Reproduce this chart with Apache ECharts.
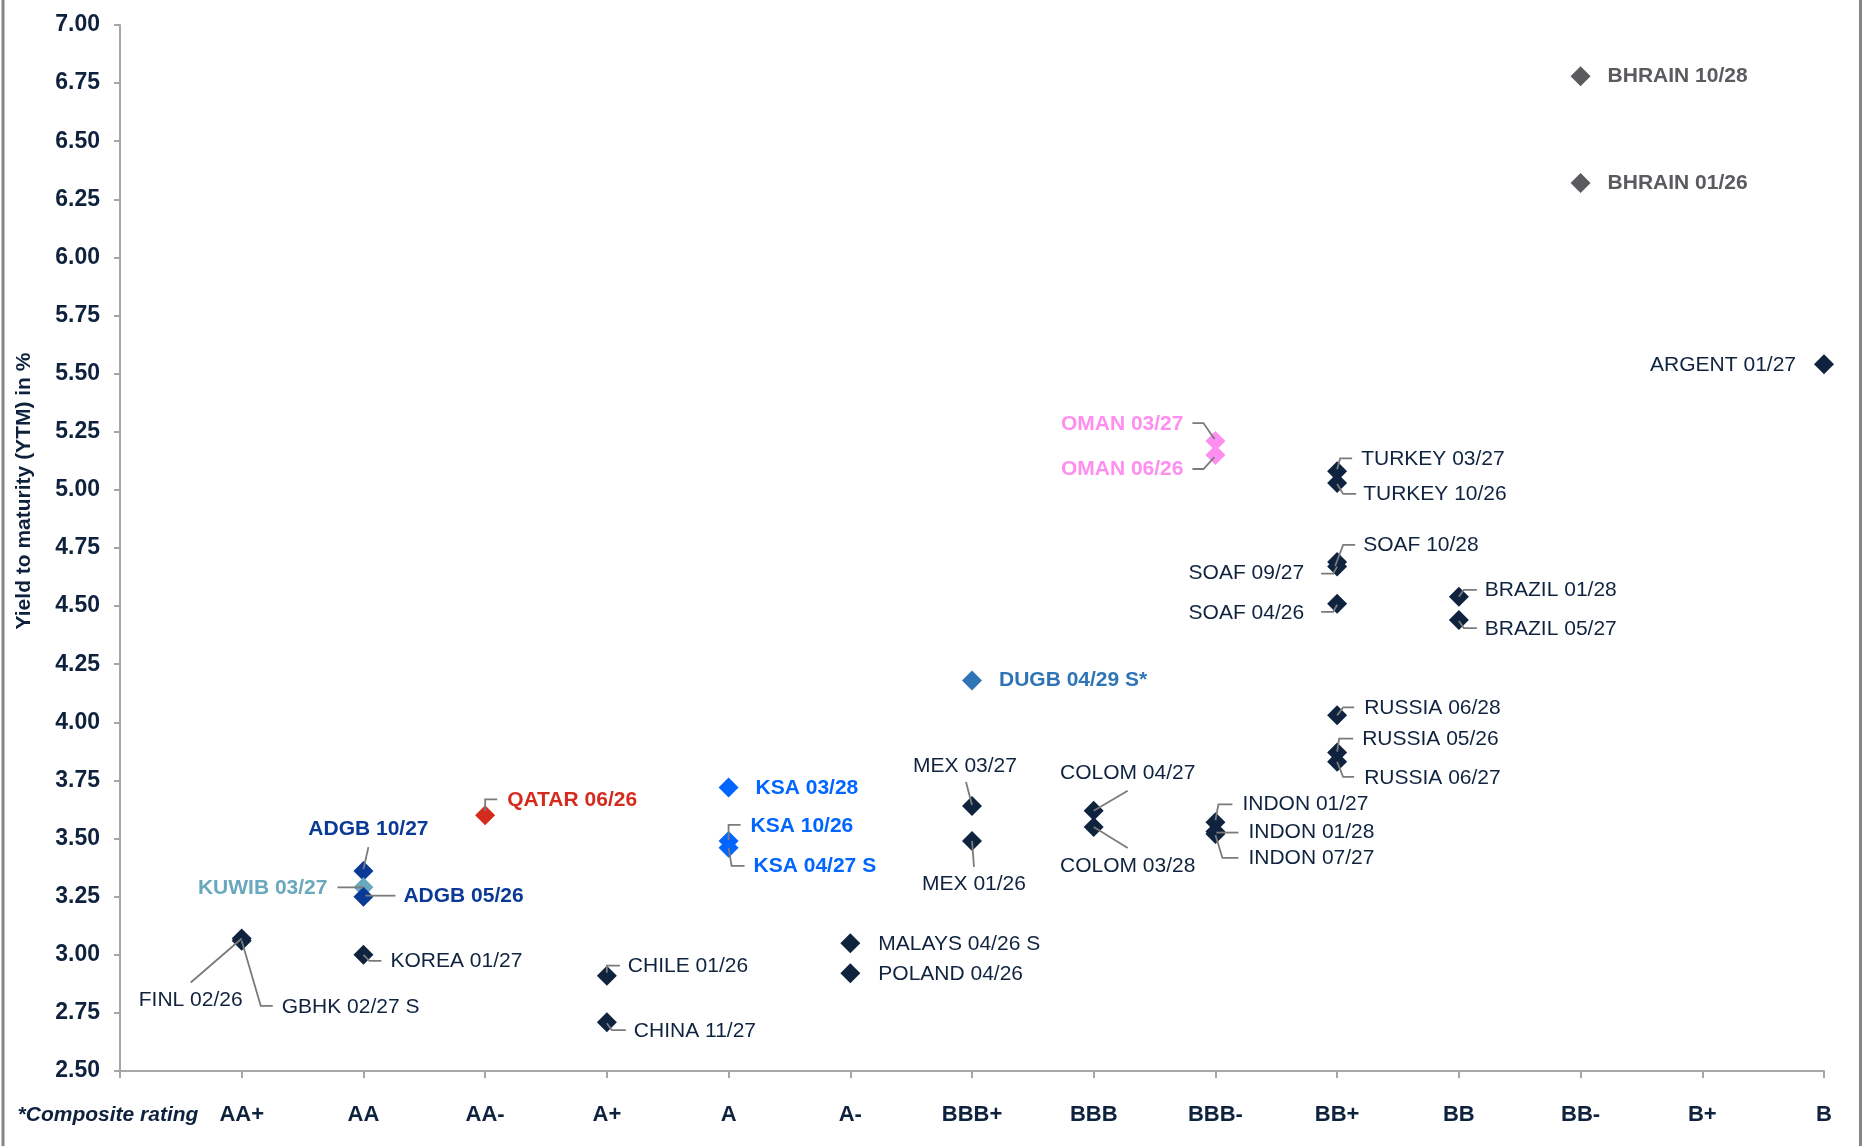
<!DOCTYPE html>
<html>
<head>
<meta charset="utf-8">
<title>Sovereign bond yields by composite rating</title>
<script src="https://cdn.jsdelivr.net/npm/echarts@6.0.0/dist/echarts.min.js"></script>
<style>
  html, body { margin: 0; padding: 0; background: #ffffff; }
  #chart { width: 1865px; height: 1146px; }
</style>
</head>
<body>
<div id="chart"></div>
<script>
// Rating scale along the x axis (position 0 is the y-axis itself)
const ratings = ['', 'AA+', 'AA', 'AA-', 'A+', 'A', 'A-', 'BBB+', 'BBB', 'BBB-', 'BB+', 'BB', 'BB-', 'B+', 'B'];

// Bonds
const bondNames = [
  'FINL 02/26', 'GBHK 02/27 S', 'KOREA 01/27', 'ADGB 10/27', 'KUWIB 03/27', 'ADGB 05/26',
  'QATAR 06/26', 'CHILE 01/26', 'CHINA 11/27', 'KSA 03/28', 'KSA 10/26', 'KSA 04/27 S',
  'MALAYS 04/26 S', 'POLAND 04/26', 'DUGB 04/29 S*', 'MEX 03/27', 'MEX 01/26',
  'COLOM 04/27', 'COLOM 03/28', 'OMAN 03/27', 'OMAN 06/26', 'INDON 01/27', 'INDON 01/28',
  'INDON 07/27', 'TURKEY 03/27', 'TURKEY 10/26', 'SOAF 10/28', 'SOAF 09/27', 'SOAF 04/26',
  'RUSSIA 06/28', 'RUSSIA 05/26', 'RUSSIA 06/27', 'BRAZIL 01/28', 'BRAZIL 05/27',
  'BHRAIN 10/28', 'BHRAIN 01/26', 'ARGENT 01/27'
];
const bondRatings = [
  'AA+', 'AA+', 'AA', 'AA', 'AA', 'AA',
  'AA-', 'A+', 'A+', 'A', 'A', 'A',
  'A-', 'A-', 'BBB+', 'BBB+', 'BBB+',
  'BBB', 'BBB', 'BBB-', 'BBB-', 'BBB-', 'BBB-',
  'BBB-', 'BB+', 'BB+', 'BB+', 'BB+', 'BB+',
  'BB+', 'BB+', 'BB+', 'BB', 'BB',
  'BB-', 'BB-', 'B'
];
const bondYields = [
  3.07, 3.06, 3.00, 3.36, 3.29, 3.25,
  3.60, 2.91, 2.71, 3.72, 3.49, 3.46,
  3.05, 2.92, 4.18, 3.64, 3.49,
  3.62, 3.55, 5.21, 5.15, 3.57, 3.53,
  3.52, 5.08, 5.03, 4.69, 4.67, 4.51,
  4.03, 3.87, 3.83, 4.54, 4.44,
  6.78, 6.32, 5.54
];
const bondIssuerGroup = [
  'core', 'core', 'core', 'adgb', 'kuwib', 'adgb',
  'qatar', 'core', 'core', 'ksa', 'ksa', 'ksa',
  'core', 'core', 'dugb', 'core', 'core',
  'core', 'core', 'oman', 'oman', 'core', 'core',
  'core', 'core', 'core', 'core', 'core', 'core',
  'core', 'core', 'core', 'core', 'core',
  'bhrain', 'bhrain', 'core'
];

// Look of each issuer group
const FONT = '"Liberation Sans", Arial, Helvetica, sans-serif';
const groupStyles = {
  core:   { color: '#0f233f', weight: 'normal' },
  adgb:   { color: '#0b3a96', weight: 'bold' },
  kuwib:  { color: '#6aa8bd', weight: 'bold' },
  qatar:  { color: '#d52b1e', weight: 'bold' },
  ksa:    { color: '#0066ff', weight: 'bold' },
  dugb:   { color: '#2f75b5', weight: 'bold' },
  oman:   { color: '#ff8ef0', weight: 'bold' },
  bhrain: { color: '#595b5e', weight: 'bold' }
};

// Label placement in pixels relative to each marker: text anchor, alignment, leader line
const labelPlacement = [
  { at: [-51, 62], align: 'center', leader: [[-51, 44], [0, 0]] },
  { at: [40, 66], align: 'left', leader: [[0, 0], [19, 65], [31, 65]] },
  { at: [27, 6], align: 'left', leader: [[0, 0], [6, 6], [18, 6]] },
  { at: [5, -42], align: 'center', leader: [[5, -24], [0, -2]] },
  { at: [-36, 1], align: 'right', leader: [[-26, 0], [0, 0]] },
  { at: [40, 0], align: 'left', leader: [[2, -1], [32, -1]] },
  { at: [22, -15], align: 'left', leader: [[0, -4], [0, -16], [12, -16]] },
  { at: [21, -9], align: 'left', leader: [[0, -3], [0, -10], [13, -10]] },
  { at: [27, 9], align: 'left', leader: [[0, 1], [5, 8], [19, 8]] },
  { at: [27, 1], align: 'left', leader: null },
  { at: [22, -15], align: 'left', leader: [[12, -16], [0, -16], [0, -1]] },
  { at: [25, 18], align: 'left', leader: [[0, 0], [3, 18], [16, 18]] },
  { at: [28, 1], align: 'left', leader: null },
  { at: [28, 1], align: 'left', leader: null },
  { at: [27, 0], align: 'left', leader: null },
  { at: [-7, -40], align: 'center', leader: [[-6, -24], [0, -1]] },
  { at: [2, 43], align: 'center', leader: [[0, 0], [2, 26]] },
  { at: [34, -37], align: 'center', leader: [[34, -20], [0, 0]] },
  { at: [34, 39], align: 'center', leader: [[0, 0], [34, 21]] },
  { at: [-32, -17], align: 'right', leader: [[-23, -18], [-12, -18], [-1, -2]] },
  { at: [-32, 14], align: 'right', leader: [[-23, 14], [-12, 14], [-1, 2]] },
  { at: [27, -18], align: 'left', leader: [[0, -2], [3, -18], [17, -18]] },
  { at: [33, 1], align: 'left', leader: [[1, 1], [23, 1]] },
  { at: [33, 24], align: 'left', leader: [[0, 1], [7, 24], [23, 24]] },
  { at: [24, -12], align: 'left', leader: [[0, -2], [3, -13], [15, -13]] },
  { at: [26, 11], align: 'left', leader: [[0, 1], [6, 11], [19, 11]] },
  { at: [26, -17], align: 'left', leader: [[-2, 4], [6, -17], [18, -17]] },
  { at: [-33, 7], align: 'right', leader: [[-16, 7], [-4, 7], [0, 0]] },
  { at: [-33, 9], align: 'right', leader: [[-16, 8], [-4, 8], [0, 1]] },
  { at: [27, -7], align: 'left', leader: [[0, 0], [6, -8], [17, -8]] },
  { at: [25, -13], align: 'left', leader: [[0, -1], [2, -14], [16, -14]] },
  { at: [27, 16], align: 'left', leader: [[0, 0], [6, 15], [17, 15]] },
  { at: [26, -7], align: 'left', leader: [[0, 0], [5, -7], [18, -7]] },
  { at: [26, 9], align: 'left', leader: [[0, 1], [5, 8], [18, 8]] },
  { at: [27, 0], align: 'left', leader: null },
  { at: [27, 0], align: 'left', leader: null },
  { at: [-28, 1], align: 'right', leader: null }
];

const points = bondNames.map((name, i) => ({
  name: name,
  value: [ratings.indexOf(bondRatings[i]), bondYields[i]],
  itemStyle: { color: groupStyles[bondIssuerGroup[i]].color, opacity: 1 }
}));

const AXIS_GREY = '#a6a6a6';
const TEXT_NAVY = '#0e213d';

const chart = echarts.init(document.getElementById('chart'), null, { renderer: 'canvas' });

chart.setOption({
  backgroundColor: '#ffffff',
  animation: false,
  grid: { left: 120, right: 41, top: 25, bottom: 75, containLabel: false, outerBoundsMode: 'none' },
  xAxis: {
    type: 'value',
    min: 0,
    max: 14,
    interval: 1,
    splitLine: { show: false },
    axisLine: { show: true, onZero: false, lineStyle: { color: AXIS_GREY, width: 2 } },
    axisTick: { show: true, length: 7, lineStyle: { color: AXIS_GREY, width: 2 } },
    axisLabel: {
      margin: 33,
      color: TEXT_NAVY,
      fontFamily: FONT,
      fontSize: 22,
      fontWeight: 'bold',
      formatter: v => ratings[v] || ''
    }
  },
  yAxis: {
    type: 'value',
    min: 2.5,
    max: 7,
    interval: 0.25,
    splitLine: { show: false },
    axisLine: { show: true, onZero: false, lineStyle: { color: AXIS_GREY, width: 2 } },
    axisTick: { show: true, length: 6, lineStyle: { color: AXIS_GREY, width: 2 } },
    axisLabel: {
      margin: 20,
      color: TEXT_NAVY,
      fontFamily: FONT,
      fontSize: 23,
      fontWeight: 'bold',
      formatter: v => v.toFixed(2)
    }
  },
  graphic: [
    {
      type: 'text',
      x: 24, y: 491,
      rotation: Math.PI / 2,
      style: {
        text: 'Yield to maturity (YTM) in %',
        fill: TEXT_NAVY,
        font: 'bold 21px ' + FONT,
        align: 'center',
        verticalAlign: 'middle'
      }
    },
    {
      type: 'text',
      x: 108, y: 1115,
      style: {
        text: '*Composite rating',
        fill: TEXT_NAVY,
        font: 'italic bold 21px ' + FONT,
        align: 'center',
        verticalAlign: 'middle'
      }
    },
    {
      type: 'line',
      shape: { x1: 3, y1: 0, x2: 3, y2: 1146 },
      style: { stroke: '#868686', lineWidth: 3 }
    },
    {
      type: 'line',
      shape: { x1: 1860.5, y1: 0, x2: 1860.5, y2: 1146 },
      style: { stroke: '#868686', lineWidth: 3 }
    }
  ],
  series: [
    {
      name: 'Bonds',
      type: 'scatter',
      symbol: 'diamond',
      symbolSize: 20,
      z: 2,
      itemStyle: { opacity: 1 },
      data: points
    },
    {
      name: 'Bond labels',
      type: 'custom',
      z: 3,
      silent: true,
      data: points.map(p => p.value),
      encode: { x: 0, y: 1 },
      renderItem: function (params, api) {
        const i = params.dataIndex;
        const pt = api.coord([api.value(0), api.value(1)]);
        const place = labelPlacement[i];
        const look = groupStyles[bondIssuerGroup[i]];
        const children = [];
        if (place.leader) {
          children.push({
            type: 'polyline',
            shape: { points: place.leader.map(d => [pt[0] + d[0], pt[1] + d[1]]) },
            style: { stroke: '#7b7b7b', lineWidth: 1.8, fill: null }
          });
        }
        children.push({
          type: 'text',
          x: pt[0] + place.at[0],
          y: pt[1] + place.at[1],
          style: {
            text: bondNames[i],
            fill: look.color,
            font: look.weight + ' 21px ' + FONT,
            align: place.align,
            verticalAlign: 'middle'
          }
        });
        return { type: 'group', children: children };
      }
    }
  ]
});
</script>
</body>
</html>
